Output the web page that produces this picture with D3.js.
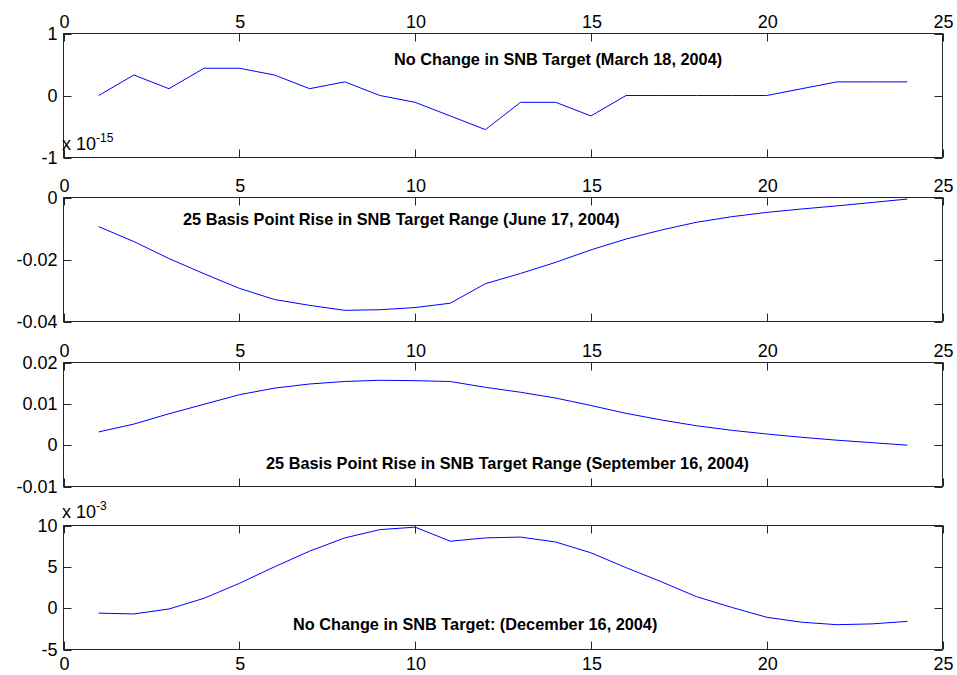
<!DOCTYPE html>
<html>
<head>
<meta charset="utf-8">
<script src="https://cdn.jsdelivr.net/npm/d3@7"></script>
<style>
  html, body { margin: 0; padding: 0; background: #ffffff; }
  svg { display: block; font-family: Arial, "Liberation Sans", Helvetica, sans-serif; }
</style>
</head>
<body>
<svg id="chart" width="957" height="675"></svg>
<script>
// ---- data ----
const steps = [1,2,3,4,5,6,7,8,9,10,11,12,13,14,15,16,17,18,19,20,21,22,23,24];
const xTicks = [0,5,10,15,20,25];

// Panel 1 (values x 1e-15)
const march2004 = [0, 0.33, 0.11, 0.44, 0.44, 0.33, 0.11, 0.22, 0, -0.11, -0.33, -0.55,
                   -0.11, -0.11, -0.33, 0, 0, 0, 0, 0, 0.11, 0.22, 0.22, 0.22];
// Panel 2
const june2004 = [-0.0094, -0.0142, -0.0197, -0.0246, -0.0293, -0.0329, -0.0348, -0.0364,
                  -0.0362, -0.0355, -0.0341, -0.0278, -0.0245, -0.0209, -0.0169, -0.0134,
                  -0.0105, -0.0080, -0.0062, -0.0048, -0.0037, -0.0027, -0.0016, -0.0005];
// Panel 3
const sept2004 = [0.0032, 0.0051, 0.0076, 0.0099, 0.0122, 0.0138, 0.0148, 0.0154,
                  0.0157, 0.0156, 0.0154, 0.0140, 0.0128, 0.0114, 0.0096, 0.0077,
                  0.0061, 0.0047, 0.0036, 0.0027, 0.0019, 0.0012, 0.0006, 0.0000];
// Panel 4 (values x 1e-3)
const dec2004 = [-0.6, -0.7, -0.1, 1.2, 3.0, 5.0, 6.9, 8.5, 9.5, 9.8, 8.1, 8.5,
                 8.6, 8.0, 6.7, 4.9, 3.2, 1.4, 0.1, -1.1, -1.7, -2.0, -1.9, -1.6];

const yTicks1 = [-1, 0, 1];
const yTicks2 = [-0.04, -0.02, 0];
const yTicks3 = [-0.01, 0, 0.01, 0.02];
const yTicks4 = [-5, 0, 5, 10];

const yTickLabels1 = ["-1", "0", "1"];
const yTickLabels2 = ["-0.04", "-0.02", "0"];
const yTickLabels3 = ["-0.01", "0", "0.01", "0.02"];
const yTickLabels4 = ["-5", "0", "5", "10"];

const titles = [
  "No Change in SNB Target (March 18, 2004)",
  "25 Basis Point Rise in SNB Target Range (June 17, 2004)",
  "25 Basis Point Rise in SNB Target Range (September 16, 2004)",
  "No Change in SNB Target: (December 16, 2004)"
];
const exponents = ["-15", null, null, "-3"];

// ---- layout ----
const svg = d3.select("#chart");
const left = 63.5, right = 942.5, ph = 124;
const tops = [33.5, 197.5, 362.5, 525.5];
const axisColor = "#262626";
const tickLen = 8;
const fontSize = 18;

const panels = [
  { values: march2004, ticks: yTicks1, labels: yTickLabels1, domain: [-1, 1],
    xLabelsTop: true, title: { x: 394, y: 65 }, exp: { x: 62, y: 150 } },
  { values: june2004, ticks: yTicks2, labels: yTickLabels2, domain: [-0.04, 0],
    xLabelsTop: true, title: { x: 183, y: 225 } },
  { values: sept2004, ticks: yTicks3, labels: yTickLabels3, domain: [-0.01, 0.02],
    xLabelsTop: true, title: { x: 266, y: 469 } },
  { values: dec2004, ticks: yTicks4, labels: yTickLabels4, domain: [-5, 10],
    xLabelsTop: false, title: { x: 293, y: 630 }, exp: { x: 62, y: 518 } }
];

const x = d3.scaleLinear().domain([0, 25]).range([left, right]);

panels.forEach((p, i) => {
  const top = tops[i], bottom = top + ph;
  const y = d3.scaleLinear().domain(p.domain).range([bottom, top]);
  const g = svg.append("g");

  // data line
  const line = d3.line().x((d, k) => x(steps[k])).y(d => y(d));
  g.append("path")
    .datum(p.values)
    .attr("fill", "none")
    .attr("stroke", "#0000ff")
    .attr("stroke-width", 1)
    .attr("d", line);

  // x ticks (inward, top and bottom)
  const xt = g.append("g").attr("stroke", axisColor).attr("stroke-width", 1);
  xTicks.forEach(t => {
    const xx = Math.round(x(t)) + 0.5;
    xt.append("line").attr("x1", xx).attr("x2", xx).attr("y1", top).attr("y2", top + tickLen);
    xt.append("line").attr("x1", xx).attr("x2", xx).attr("y1", bottom).attr("y2", bottom - tickLen);
  });
  // y ticks (inward, left and right)
  p.ticks.forEach(t => {
    const yy = Math.round(y(t)) + 0.5;
    xt.append("line").attr("x1", left).attr("x2", left + tickLen).attr("y1", yy).attr("y2", yy);
    xt.append("line").attr("x1", right).attr("x2", right - tickLen).attr("y1", yy).attr("y2", yy);
  });

  // box
  g.append("rect")
    .attr("x", left).attr("y", top)
    .attr("width", right - left).attr("height", ph)
    .attr("fill", "none").attr("stroke", axisColor).attr("stroke-width", 1);

  // x tick labels
  g.selectAll(".xl").data(xTicks).enter().append("text")
    .attr("x", d => x(d) + 1)
    .attr("y", p.xLabelsTop ? top - 6 : bottom + 20)
    .attr("text-anchor", "middle")
    .attr("font-size", fontSize)
    .attr("fill", "#000")
    .text(d => d);

  // y tick labels
  g.selectAll(".yl").data(p.ticks).enter().append("text")
    .attr("x", left - 6)
    .attr("y", d => y(d) + 6)
    .attr("text-anchor", "end")
    .attr("font-size", fontSize)
    .attr("fill", "#000")
    .text((d, k) => p.labels[k]);

  // title annotation
  g.append("text")
    .attr("x", p.title.x).attr("y", p.title.y)
    .attr("font-size", 16.3)
    .attr("font-weight", "bold")
    .attr("fill", "#000")
    .text(titles[i]);

  // exponent label
  if (exponents[i]) {
    const t = g.append("text")
      .attr("x", p.exp.x).attr("y", p.exp.y)
      .attr("font-size", fontSize).attr("fill", "#000");
    t.append("tspan").text("x 10");
    t.append("tspan").attr("dy", -8).attr("font-size", 12).text(exponents[i]);
  }
});
</script>
</body>
</html>
